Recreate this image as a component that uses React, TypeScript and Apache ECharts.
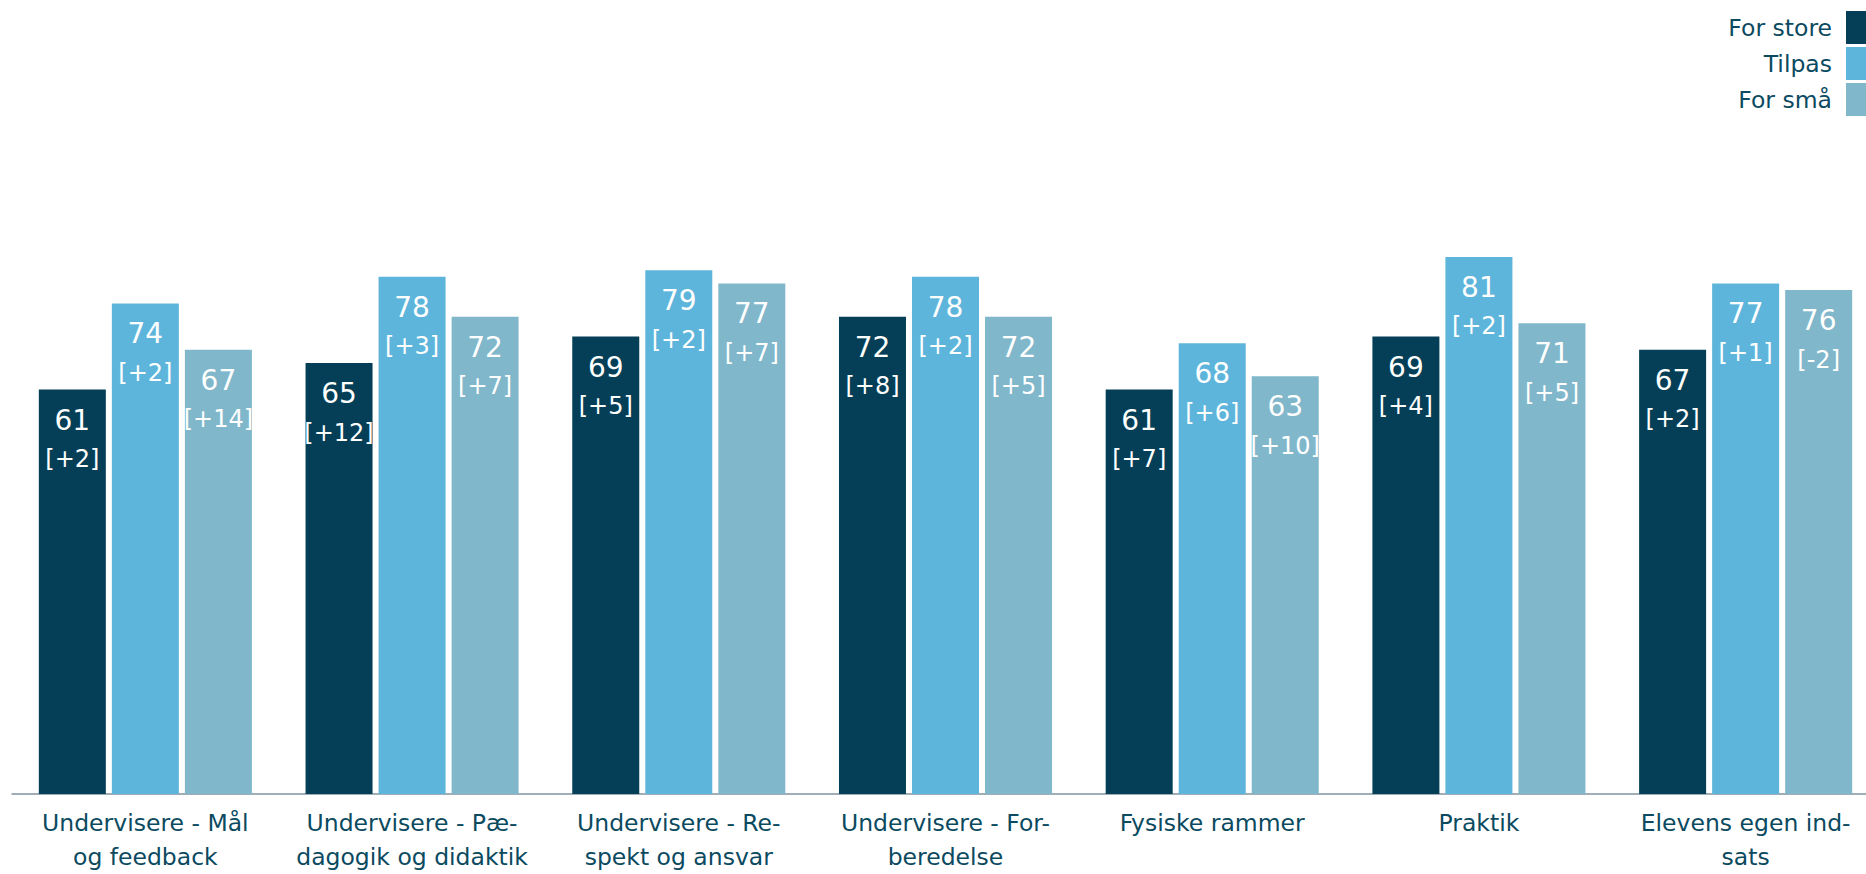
import React, { useEffect, useRef } from "react";
import * as echarts from "echarts";

const categories = [
  "Undervisere - Mål\nog feedback",
  "Undervisere - Pæ-\ndagogik og didaktik",
  "Undervisere - Re-\nspekt og ansvar",
  "Undervisere - For-\nberedelse",
  "Fysiske rammer",
  "Praktik",
  "Elevens egen ind-\nsats",
];

const seriesNames = ["For store", "Tilpas", "For små"];

const forStore = [61, 65, 69, 72, 61, 69, 67];
const tilpas = [74, 78, 79, 78, 68, 81, 77];
const forSmaa = [67, 72, 77, 72, 63, 71, 76];

const forStoreDiff = ["+2", "+12", "+5", "+8", "+7", "+4", "+2"];
const tilpasDiff = ["+2", "+3", "+2", "+2", "+6", "+2", "+1"];
const forSmaaDiff = ["+14", "+7", "+7", "+5", "+10", "+5", "-2"];

const colors = ["#043f57", "#5eb5db", "#80b7cb"];
const textColor = "#0b4a5f";
const fontFamily = "'DejaVu Sans', Verdana, sans-serif";

export default function App() {
  const ref = useRef<HTMLDivElement>(null);

  useEffect(() => {
    if (!ref.current) return;
    const chart = echarts.init(ref.current, undefined, { renderer: "svg" });

    const makeSeries = (name: string, values: number[], diffs: string[], color: string) => ({
      name,
      type: "bar",
      data: values,
      barWidth: 67,
      barGap: "9%",
      itemStyle: { color },
      label: {
        show: true,
        position: "insideTop",
        distance: 11,
        formatter: (p: any) => `{v|${p.value}}\n{d|[${diffs[p.dataIndex]}]}`,
        rich: {
          v: { fontSize: 28, color: "#ffffff", lineHeight: 39, fontFamily },
          d: { fontSize: 24, color: "#ffffff", lineHeight: 39, fontFamily },
        },
      },
    });

    chart.setOption({
      animation: false,
      color: colors,
      legend: {
        data: seriesNames,
        orient: "vertical",
        align: "right",
        right: 14,
        top: 11,
        padding: 0,
        itemWidth: 20,
        itemHeight: 33,
        itemGap: 3,
        icon: "rect",
        selectedMode: false,
        textStyle: {
          fontSize: 23.5,
          color: textColor,
          fontFamily,
          padding: [0, 9, 0, 0],
        },
      },
      grid: {
        left: 12,
        top: 131,
        bottom: 73,
        right: 1,
        containLabel: false,
      },
      xAxis: {
        type: "category",
        data: categories,
        axisTick: { show: false },
        axisLine: { show: true, lineStyle: { color: "#8193a0", width: 1.5 } },
        axisLabel: {
          interval: 0,
          fontSize: 23.5,
          color: textColor,
          fontFamily,
          lineHeight: 34,
          margin: 12,
        },
      },
      yAxis: {
        type: "value",
        min: 0,
        max: 100,
        show: false,
        splitLine: { show: false },
      },
      series: [
        makeSeries(seriesNames[0], forStore, forStoreDiff, colors[0]),
        makeSeries(seriesNames[1], tilpas, tilpasDiff, colors[1]),
        makeSeries(seriesNames[2], forSmaa, forSmaaDiff, colors[2]),
      ],
    });

    return () => chart.dispose();
  }, []);

  return (
    <div
      style={{
        position: "fixed",
        left: 0,
        top: 0,
        width: 1866,
        height: 874,
        overflow: "hidden",
        background: "#ffffff",
      }}
    >
      <div ref={ref} style={{ width: 1880, height: 874 }} />
    </div>
  );
}
